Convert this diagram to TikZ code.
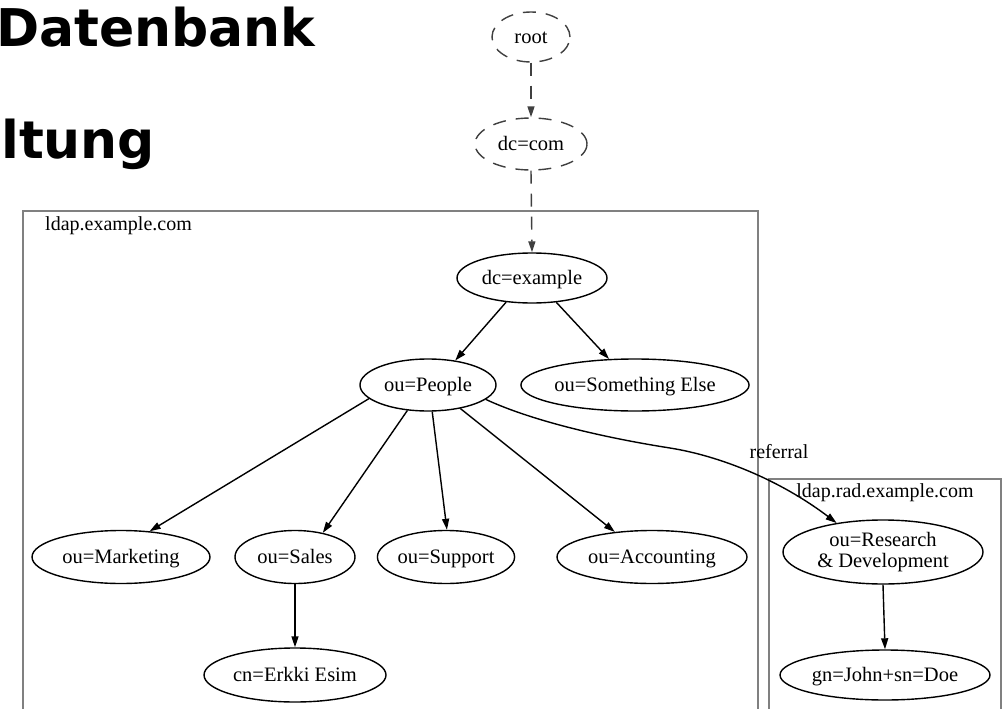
\documentclass[tikz,border=0pt]{standalone}
\usepackage{fontspec}
\setmainfont{Liberation Serif}
\newfontfamily\titlefont{DejaVu Sans Bold}
\usetikzlibrary{arrows.meta,shapes.geometric}

\tikzset{
  entry/.style={ellipse, draw=black, line width=1.4pt, inner sep=0pt,
    text height=16pt, text depth=2.5pt,
    font=\fontsize{20.5}{22}\selectfont},
  virtual/.style={entry, draw=black!75, dash pattern=on 13pt off 10pt},
  link/.style={draw=black, line width=1.4pt, -{Triangle[length=11pt,width=7pt]}},
  vlink/.style={link, draw=black!75, dash pattern=on 13pt off 10pt,
    -{Triangle[length=11pt,width=7pt,fill=black!75]}},
  cluster/.style={draw=black!50, line width=2.2pt},
  clusterlabel/.style={inner sep=0pt, font=\fontsize{20}{22}\selectfont},
  heading/.style={inner sep=0pt, anchor=base west,
    font=\titlefont\fontsize{52}{56}\selectfont}
}

\begin{document}
\begin{tikzpicture}[x=1pt,y=-1pt]
\useasboundingbox[fill=white] (0,0) rectangle (1004,709);

% slide heading (partly off the left edge)
\node[heading] (head1) at (-4,47) {Datenbank};
\node[heading] (head2) at (1,158) {ltung};

% naming contexts
\draw[cluster] (23,715) -- (23,211) -- (758,211) -- (758,715);
\node[clusterlabel, anchor=west] (lbl1) at (45,226) {ldap.example.com};
\draw[cluster] (769,715) -- (769,479) -- (1001,479) -- (1001,715);
\node[clusterlabel] (lbl2) at (885,493) {ldap.rad.example.com};

% directory entries
\node[virtual, minimum width=78pt, minimum height=50pt] (root) at (531,37) {root};
\node[virtual, minimum width=112pt, minimum height=52pt] (dccom) at (531,144) {dc=com};
\node[entry, minimum width=150pt, minimum height=50pt] (dcex) at (532,278) {dc=example};
\node[entry, minimum width=136pt, minimum height=52pt] (people) at (428,385) {ou=People};
\node[entry, minimum width=224pt, minimum height=52pt] (else) at (635,385) {ou=Something Else};
\node[entry, minimum width=178pt, minimum height=53pt] (mkt) at (121,557) {ou=Marketing};
\node[entry, minimum width=120pt, minimum height=53pt] (sales) at (295,557) {ou=Sales};
\node[entry, minimum width=130pt, minimum height=53pt] (support) at (446,557) {ou=Support};
\node[entry, minimum width=190pt, minimum height=53pt] (acct) at (652,557) {ou=Accounting};
\node[entry, minimum width=182pt, minimum height=54pt] (erkki) at (295,675) {cn=Erkki Esim};
\node[entry, minimum width=200pt, minimum height=64pt, align=center,
  text height=, text depth=] (rd) at (883,552)
  {ou=Research\\[-1pt]\& Development};
\node[entry, minimum width=210pt, minimum height=50pt] (john) at (885,675) {gn=John+sn=Doe};

% tree edges
\draw[vlink] (root.south) -- (dccom.north);
\draw[vlink] (dccom.south) -- (dcex.north);
\draw[link] (dcex.223) -- (people.42);
\draw[link] (dcex.315) -- (else.135);
\draw[link] (people.193) -- (mkt.42);
\draw[link] (people.231) -- (sales.41);
\draw[link] (people.279) -- (support.88);
\draw[link] (people.324) -- (acct.146);
\draw[link] (sales.south) -- (erkki.north);
\draw[link] (rd.south) -- (john.north);

% referral to the second server
\coordinate (bend) at (670,448);
\draw[link] (people.346) .. controls (530,420) and (600,437) .. (bend)
  .. controls (720,456) and (780,480) .. (rd.148);
\node[clusterlabel] (ref) at (779,452) {referral};
\end{tikzpicture}
\end{document}
